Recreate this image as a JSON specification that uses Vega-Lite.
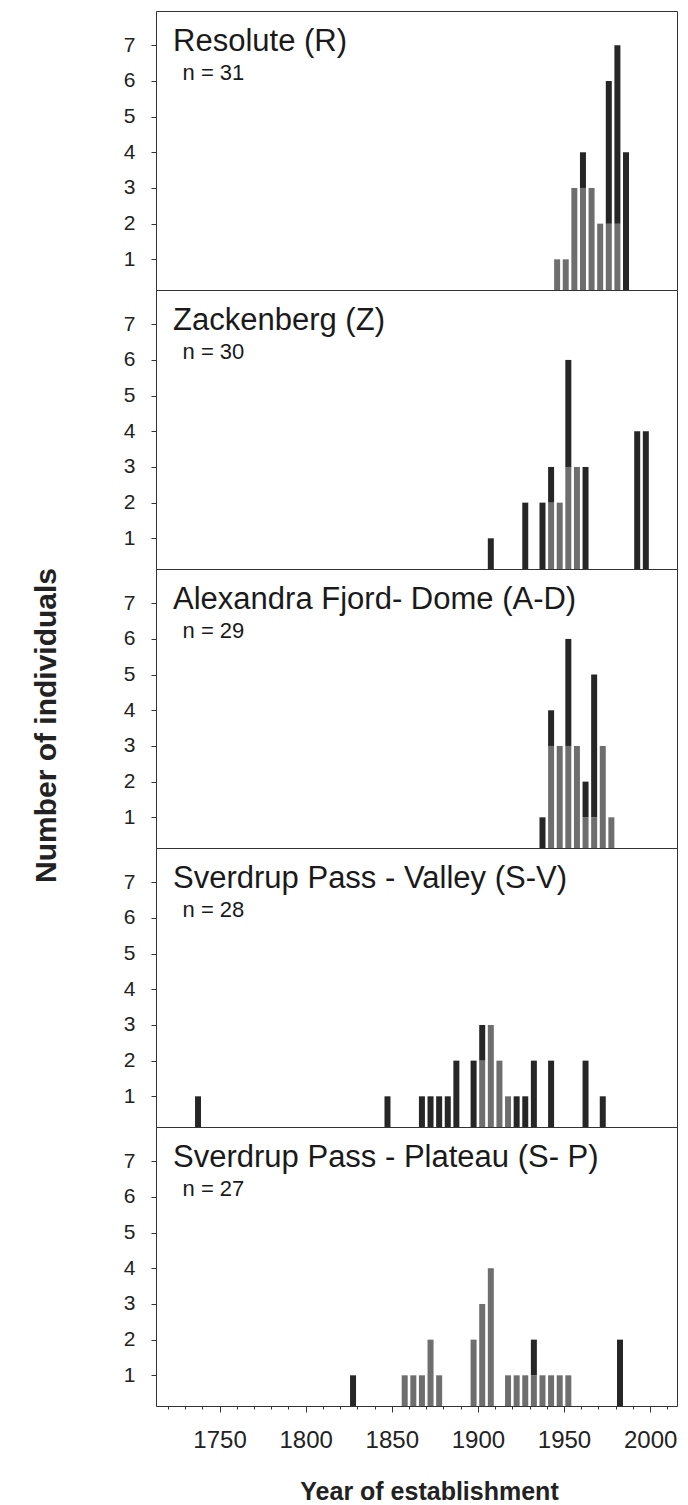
{
  "$schema": "https://vega.github.io/schema/vega-lite/v6.json",
  "padding": {"left": 30, "top": 10, "right": 12, "bottom": 5},
  "spacing": 0,
  "bounds": "flush",
  "background": "white",
  "config": {
    "font": "Liberation Sans",
    "view": {"stroke": "#333333", "strokeWidth": 1},
    "axis": {"grid": false, "domain": false, "tickColor": "#333333", "labelColor": "#222222", "titleColor": "#222222", "labelFont": "Liberation Sans", "titleFont": "Liberation Sans"}
  },
  "datasets": {
    "bars": [
      {"site": "R", "year": 1946, "count": 1, "shade": "gray"},
      {"site": "R", "year": 1951, "count": 1, "shade": "gray"},
      {"site": "R", "year": 1956, "count": 3, "shade": "gray"},
      {"site": "R", "year": 1961, "count": 3, "shade": "gray"},
      {"site": "R", "year": 1961, "count": 1, "shade": "dark"},
      {"site": "R", "year": 1966, "count": 3, "shade": "gray"},
      {"site": "R", "year": 1971, "count": 2, "shade": "gray"},
      {"site": "R", "year": 1976, "count": 2, "shade": "gray"},
      {"site": "R", "year": 1976, "count": 4, "shade": "dark"},
      {"site": "R", "year": 1981, "count": 2, "shade": "gray"},
      {"site": "R", "year": 1981, "count": 5, "shade": "dark"},
      {"site": "R", "year": 1986, "count": 4, "shade": "dark"},

      {"site": "Z", "year": 1907.5, "count": 1, "shade": "dark"},
      {"site": "Z", "year": 1927.5, "count": 2, "shade": "dark"},
      {"site": "Z", "year": 1937.5, "count": 2, "shade": "dark"},
      {"site": "Z", "year": 1942.5, "count": 2, "shade": "gray"},
      {"site": "Z", "year": 1942.5, "count": 1, "shade": "dark"},
      {"site": "Z", "year": 1947.5, "count": 2, "shade": "gray"},
      {"site": "Z", "year": 1952.5, "count": 3, "shade": "gray"},
      {"site": "Z", "year": 1952.5, "count": 3, "shade": "dark"},
      {"site": "Z", "year": 1957.5, "count": 3, "shade": "gray"},
      {"site": "Z", "year": 1962.5, "count": 3, "shade": "dark"},
      {"site": "Z", "year": 1992.5, "count": 4, "shade": "dark"},
      {"site": "Z", "year": 1997.5, "count": 4, "shade": "dark"},

      {"site": "AD", "year": 1937.5, "count": 1, "shade": "dark"},
      {"site": "AD", "year": 1942.5, "count": 3, "shade": "gray"},
      {"site": "AD", "year": 1942.5, "count": 1, "shade": "dark"},
      {"site": "AD", "year": 1947.5, "count": 3, "shade": "gray"},
      {"site": "AD", "year": 1952.5, "count": 3, "shade": "gray"},
      {"site": "AD", "year": 1952.5, "count": 3, "shade": "dark"},
      {"site": "AD", "year": 1957.5, "count": 3, "shade": "gray"},
      {"site": "AD", "year": 1962.5, "count": 1, "shade": "gray"},
      {"site": "AD", "year": 1962.5, "count": 1, "shade": "dark"},
      {"site": "AD", "year": 1967.5, "count": 1, "shade": "gray"},
      {"site": "AD", "year": 1967.5, "count": 4, "shade": "dark"},
      {"site": "AD", "year": 1972.5, "count": 3, "shade": "gray"},
      {"site": "AD", "year": 1977.5, "count": 1, "shade": "gray"},

      {"site": "SV", "year": 1737.5, "count": 1, "shade": "dark"},
      {"site": "SV", "year": 1847.5, "count": 1, "shade": "dark"},
      {"site": "SV", "year": 1867.5, "count": 1, "shade": "dark"},
      {"site": "SV", "year": 1872.5, "count": 1, "shade": "dark"},
      {"site": "SV", "year": 1877.5, "count": 1, "shade": "dark"},
      {"site": "SV", "year": 1882.5, "count": 1, "shade": "dark"},
      {"site": "SV", "year": 1887.5, "count": 2, "shade": "dark"},
      {"site": "SV", "year": 1897.5, "count": 2, "shade": "dark"},
      {"site": "SV", "year": 1902.5, "count": 2, "shade": "gray"},
      {"site": "SV", "year": 1902.5, "count": 1, "shade": "dark"},
      {"site": "SV", "year": 1907.5, "count": 3, "shade": "gray"},
      {"site": "SV", "year": 1912.5, "count": 2, "shade": "gray"},
      {"site": "SV", "year": 1917.5, "count": 1, "shade": "gray"},
      {"site": "SV", "year": 1922.5, "count": 1, "shade": "dark"},
      {"site": "SV", "year": 1927.5, "count": 1, "shade": "dark"},
      {"site": "SV", "year": 1932.5, "count": 2, "shade": "dark"},
      {"site": "SV", "year": 1942.5, "count": 2, "shade": "dark"},
      {"site": "SV", "year": 1962.5, "count": 2, "shade": "dark"},
      {"site": "SV", "year": 1972.5, "count": 1, "shade": "dark"},

      {"site": "SP", "year": 1827.5, "count": 1, "shade": "dark"},
      {"site": "SP", "year": 1857.5, "count": 1, "shade": "gray"},
      {"site": "SP", "year": 1862.5, "count": 1, "shade": "gray"},
      {"site": "SP", "year": 1867.5, "count": 1, "shade": "gray"},
      {"site": "SP", "year": 1872.5, "count": 2, "shade": "gray"},
      {"site": "SP", "year": 1877.5, "count": 1, "shade": "gray"},
      {"site": "SP", "year": 1897.5, "count": 2, "shade": "gray"},
      {"site": "SP", "year": 1902.5, "count": 3, "shade": "gray"},
      {"site": "SP", "year": 1907.5, "count": 4, "shade": "gray"},
      {"site": "SP", "year": 1917.5, "count": 1, "shade": "gray"},
      {"site": "SP", "year": 1922.5, "count": 1, "shade": "gray"},
      {"site": "SP", "year": 1927.5, "count": 1, "shade": "gray"},
      {"site": "SP", "year": 1932.5, "count": 1, "shade": "gray"},
      {"site": "SP", "year": 1932.5, "count": 1, "shade": "dark"},
      {"site": "SP", "year": 1937.5, "count": 1, "shade": "gray"},
      {"site": "SP", "year": 1942.5, "count": 1, "shade": "gray"},
      {"site": "SP", "year": 1947.5, "count": 1, "shade": "gray"},
      {"site": "SP", "year": 1952.5, "count": 1, "shade": "gray"},
      {"site": "SP", "year": 1982.5, "count": 2, "shade": "dark"}
    ],
    "labels": [
      {"site": "R", "label": "Resolute (R)", "n": "n = 31"},
      {"site": "Z", "label": "Zackenberg (Z)", "n": "n = 30"},
      {"site": "AD", "label": "Alexandra Fjord- Dome (A-D)", "n": "n = 29"},
      {"site": "SV", "label": "Sverdrup Pass - Valley (S-V)", "n": "n = 28"},
      {"site": "SP", "label": "Sverdrup Pass - Plateau (S- P)", "n": "n = 27"}
    ]
  },
  "vconcat": [
    {
      "width": 521, "height": 279,
      "layer": [
        {"data": {"name": "bars"}, "transform": [{"filter": "datum.site === 'R'"}],
         "mark": {"type": "bar", "width": 6, "clip": true},
         "encoding": {
           "x": {"field": "year", "type": "quantitative", "scale": {"domain": [1716, 2012.7], "nice": false, "zero": false}, "axis": null},
           "y": {"field": "count", "type": "quantitative", "stack": "zero", "scale": {"domain": [0.14, 7.96], "nice": false, "zero": false},
                 "axis": {"values": [1,2,3,4,5,6,7], "tickSize": 5, "labelPadding": 16, "labelFontSize": 21, "title": null}},
           "color": {"field": "shade", "type": "nominal", "scale": {"domain": ["gray", "dark"], "range": ["#6e6e6e", "#262626"]}, "legend": null},
           "order": {"field": "shade", "sort": "descending"}
         }},
        {"data": {"name": "labels"}, "transform": [{"filter": "datum.site === 'R'"}],
         "mark": {"type": "text", "align": "left", "baseline": "alphabetic", "fontSize": 31, "color": "#1a1a1a"},
         "encoding": {"x": {"datum": 1723, "type": "quantitative"}, "y": {"datum": 6.84, "type": "quantitative"}, "text": {"field": "label"}}},
        {"data": {"name": "labels"}, "transform": [{"filter": "datum.site === 'R'"}],
         "mark": {"type": "text", "align": "left", "baseline": "alphabetic", "fontSize": 22, "color": "#1a1a1a"},
         "encoding": {"x": {"datum": 1728.5, "type": "quantitative"}, "y": {"datum": 6.03, "type": "quantitative"}, "text": {"field": "n"}}}
      ]
    },
    {
      "width": 521, "height": 279,
      "layer": [
        {"data": {"name": "bars"}, "transform": [{"filter": "datum.site === 'Z'"}],
         "mark": {"type": "bar", "width": 6, "clip": true},
         "encoding": {
           "x": {"field": "year", "type": "quantitative", "scale": {"domain": [1716, 2012.7], "nice": false, "zero": false}, "axis": null},
           "y": {"field": "count", "type": "quantitative", "stack": "zero", "scale": {"domain": [0.14, 7.96], "nice": false, "zero": false},
                 "axis": {"values": [1,2,3,4,5,6,7], "tickSize": 5, "labelPadding": 16, "labelFontSize": 21, "title": null}},
           "color": {"field": "shade", "type": "nominal", "scale": {"domain": ["gray", "dark"], "range": ["#6e6e6e", "#262626"]}, "legend": null},
           "order": {"field": "shade", "sort": "descending"}
         }},
        {"data": {"name": "labels"}, "transform": [{"filter": "datum.site === 'Z'"}],
         "mark": {"type": "text", "align": "left", "baseline": "alphabetic", "fontSize": 31, "color": "#1a1a1a"},
         "encoding": {"x": {"datum": 1723, "type": "quantitative"}, "y": {"datum": 6.84, "type": "quantitative"}, "text": {"field": "label"}}},
        {"data": {"name": "labels"}, "transform": [{"filter": "datum.site === 'Z'"}],
         "mark": {"type": "text", "align": "left", "baseline": "alphabetic", "fontSize": 22, "color": "#1a1a1a"},
         "encoding": {"x": {"datum": 1728.5, "type": "quantitative"}, "y": {"datum": 6.03, "type": "quantitative"}, "text": {"field": "n"}}}
      ]
    },
    {
      "width": 521, "height": 279,
      "layer": [
        {"data": {"name": "bars"}, "transform": [{"filter": "datum.site === 'AD'"}],
         "mark": {"type": "bar", "width": 6, "clip": true},
         "encoding": {
           "x": {"field": "year", "type": "quantitative", "scale": {"domain": [1716, 2012.7], "nice": false, "zero": false}, "axis": null},
           "y": {"field": "count", "type": "quantitative", "stack": "zero", "scale": {"domain": [0.14, 7.96], "nice": false, "zero": false},
                 "axis": {"values": [1,2,3,4,5,6,7], "tickSize": 5, "labelPadding": 16, "labelFontSize": 21,
                          "title": "Number of individuals", "titleFontSize": 30, "titleFontWeight": "bold", "titleAngle": 270,
                          "titleAlign": "center", "titleBaseline": "alphabetic", "titleX": -101, "titleY": 156}},
           "color": {"field": "shade", "type": "nominal", "scale": {"domain": ["gray", "dark"], "range": ["#6e6e6e", "#262626"]}, "legend": null},
           "order": {"field": "shade", "sort": "descending"}
         }},
        {"data": {"name": "labels"}, "transform": [{"filter": "datum.site === 'AD'"}],
         "mark": {"type": "text", "align": "left", "baseline": "alphabetic", "fontSize": 31, "color": "#1a1a1a"},
         "encoding": {"x": {"datum": 1723, "type": "quantitative"}, "y": {"datum": 6.84, "type": "quantitative"}, "text": {"field": "label"}}},
        {"data": {"name": "labels"}, "transform": [{"filter": "datum.site === 'AD'"}],
         "mark": {"type": "text", "align": "left", "baseline": "alphabetic", "fontSize": 22, "color": "#1a1a1a"},
         "encoding": {"x": {"datum": 1728.5, "type": "quantitative"}, "y": {"datum": 6.03, "type": "quantitative"}, "text": {"field": "n"}}}
      ]
    },
    {
      "width": 521, "height": 279,
      "layer": [
        {"data": {"name": "bars"}, "transform": [{"filter": "datum.site === 'SV'"}],
         "mark": {"type": "bar", "width": 6, "clip": true},
         "encoding": {
           "x": {"field": "year", "type": "quantitative", "scale": {"domain": [1716, 2012.7], "nice": false, "zero": false}, "axis": null},
           "y": {"field": "count", "type": "quantitative", "stack": "zero", "scale": {"domain": [0.14, 7.96], "nice": false, "zero": false},
                 "axis": {"values": [1,2,3,4,5,6,7], "tickSize": 5, "labelPadding": 16, "labelFontSize": 21, "title": null}},
           "color": {"field": "shade", "type": "nominal", "scale": {"domain": ["gray", "dark"], "range": ["#6e6e6e", "#262626"]}, "legend": null},
           "order": {"field": "shade", "sort": "descending"}
         }},
        {"data": {"name": "labels"}, "transform": [{"filter": "datum.site === 'SV'"}],
         "mark": {"type": "text", "align": "left", "baseline": "alphabetic", "fontSize": 31, "color": "#1a1a1a"},
         "encoding": {"x": {"datum": 1723, "type": "quantitative"}, "y": {"datum": 6.84, "type": "quantitative"}, "text": {"field": "label"}}},
        {"data": {"name": "labels"}, "transform": [{"filter": "datum.site === 'SV'"}],
         "mark": {"type": "text", "align": "left", "baseline": "alphabetic", "fontSize": 22, "color": "#1a1a1a"},
         "encoding": {"x": {"datum": 1728.5, "type": "quantitative"}, "y": {"datum": 6.03, "type": "quantitative"}, "text": {"field": "n"}}}
      ]
    },
    {
      "width": 521, "height": 279,
      "resolve": {"axis": {"x": "independent"}},
      "layer": [
        {"data": {"name": "bars"}, "transform": [{"filter": "datum.site === 'SP'"}],
         "mark": {"type": "bar", "width": 6, "clip": true},
         "encoding": {
           "x": {"field": "year", "type": "quantitative", "scale": {"domain": [1716, 2012.7], "nice": false, "zero": false},
                 "axis": {"orient": "bottom", "values": [1750, 1800, 1850, 1900, 1950, 2000], "format": "d",
                          "tickSize": 6, "labelFontSize": 24, "labelPadding": 16, "labelOverlap": false, "labelFlush": false,
                          "title": "Year of establishment", "titleFontSize": 25, "titleFontWeight": "bold",
                          "titleAlign": "center", "titleBaseline": "alphabetic", "titleX": 273, "titleY": 93}},
           "y": {"field": "count", "type": "quantitative", "stack": "zero", "scale": {"domain": [0.14, 7.96], "nice": false, "zero": false},
                 "axis": {"values": [1,2,3,4,5,6,7], "tickSize": 5, "labelPadding": 16, "labelFontSize": 21, "title": null}},
           "color": {"field": "shade", "type": "nominal", "scale": {"domain": ["gray", "dark"], "range": ["#6e6e6e", "#262626"]}, "legend": null},
           "order": {"field": "shade", "sort": "descending"}
         }},
        {"data": {"name": "labels"}, "transform": [{"filter": "datum.site === 'SP'"}],
         "mark": {"type": "text", "align": "left", "baseline": "alphabetic", "fontSize": 31, "color": "#1a1a1a"},
         "encoding": {"x": {"datum": 1723, "type": "quantitative",
                            "axis": {"orient": "bottom", "values": [1720,1730,1740,1760,1770,1780,1790,1810,1820,1830,1840,1860,1870,1880,1890,1910,1920,1930,1940,1960,1970,1980,1990,2010],
                                     "labels": false, "tickSize": 3, "title": null}},
                      "y": {"datum": 6.84, "type": "quantitative"}, "text": {"field": "label"}}},
        {"data": {"name": "labels"}, "transform": [{"filter": "datum.site === 'SP'"}],
         "mark": {"type": "text", "align": "left", "baseline": "alphabetic", "fontSize": 22, "color": "#1a1a1a"},
         "encoding": {"x": {"datum": 1728.5, "type": "quantitative", "axis": null}, "y": {"datum": 6.03, "type": "quantitative"}, "text": {"field": "n"}}}
      ]
    }
  ]
}
